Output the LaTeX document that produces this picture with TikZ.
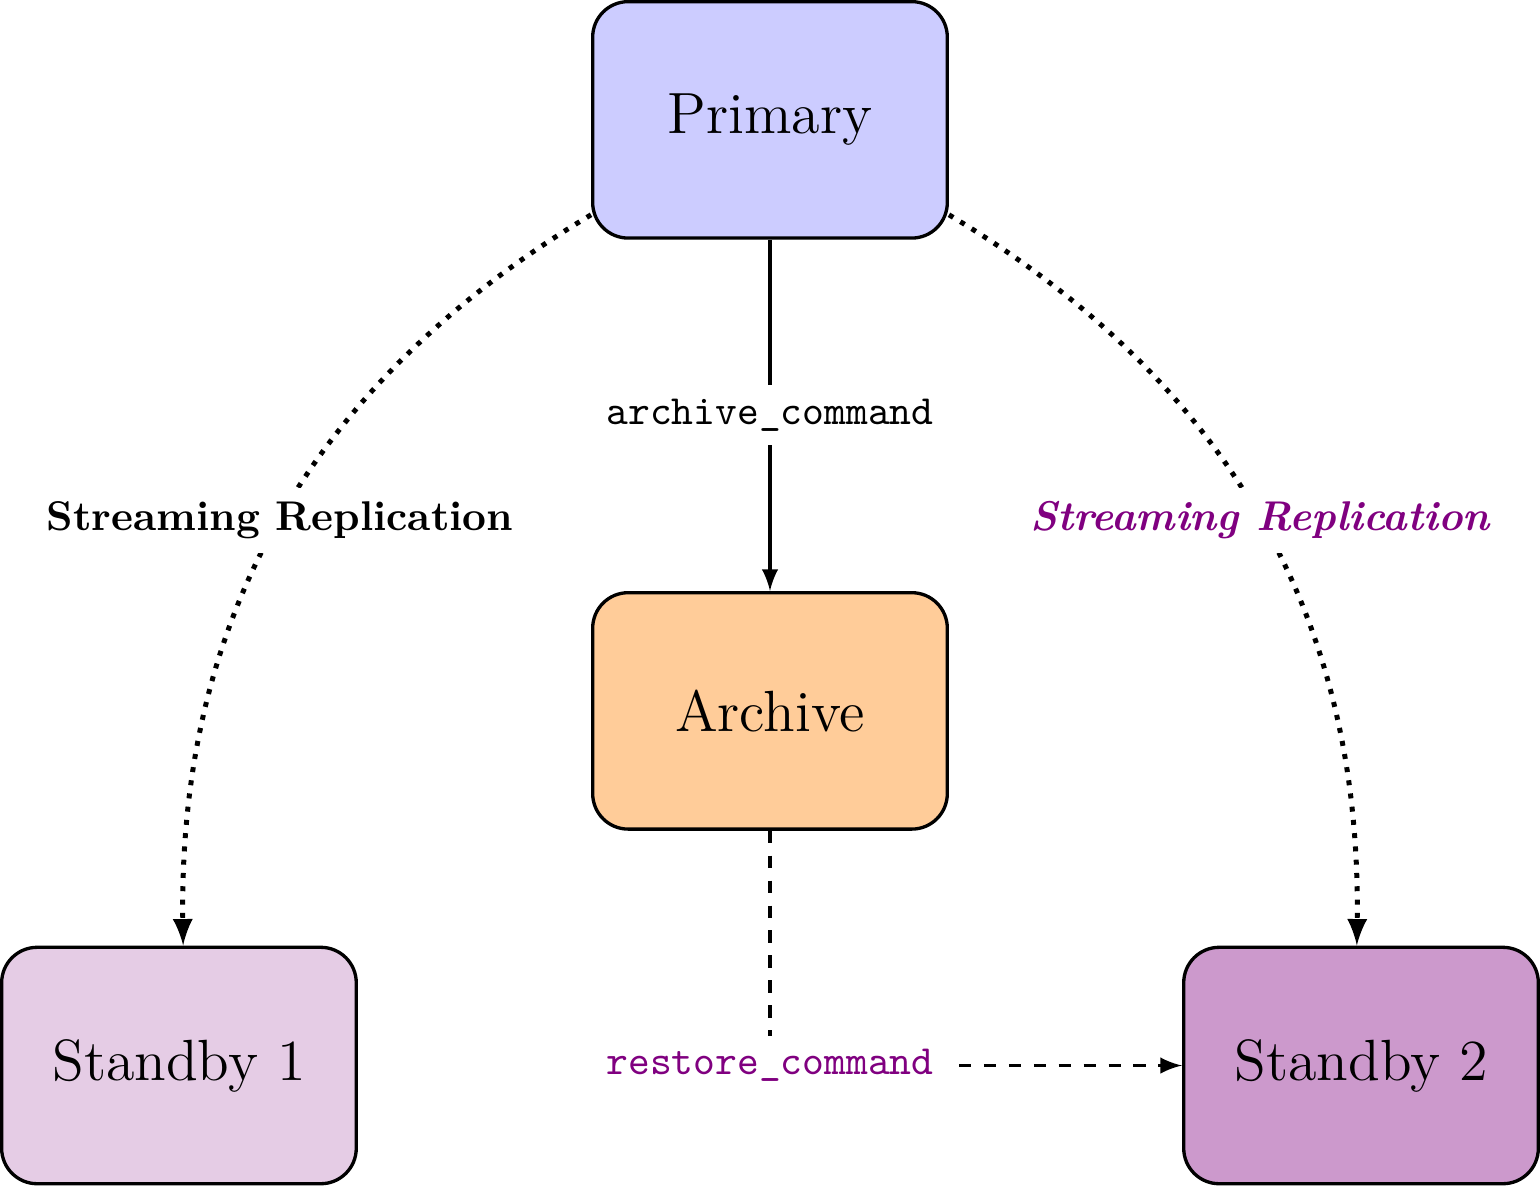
\documentclass[tikz,border=0pt]{standalone}
\usetikzlibrary{positioning}

\tikzset{
  server/.style={draw, thick, rounded corners=3mm, minimum width=3cm, minimum height=2cm, font=\fontsize{14}{17}\selectfont},
  cmd/.style={fill=white, font=\ttfamily},
  stream/.style={->, dotted, very thick},
}

\begin{document}
\begin{tikzpicture}[>=latex, thick, on grid]
  \node[server, fill=blue!20] (primary) {Primary};
  \node[server, fill=orange!40, below=5cm of primary] (archive) {Archive};
  \node[server, fill=violet!20, below left=3cm and 5cm of archive] (standby1) {Standby 1};
  \node[server, fill=violet!40, below right=3cm and 5cm of archive] (standby2) {Standby 2};
  % WAL shipping
  \draw[->] (primary) -- node[cmd] {archive\_command} (archive);
  \draw[->, dashed] (archive) |- node[cmd, text=violet] {restore\_command} (standby2);
  % streaming
  \draw[stream] (primary) to[bend right=30] node[fill=white, font=\bfseries] {Streaming Replication} (standby1);
  \draw[stream] (primary) to[bend left=30] node[fill=white, font=\bfseries\itshape, text=violet] {Streaming Replication} (standby2);
\end{tikzpicture}
\end{document}
